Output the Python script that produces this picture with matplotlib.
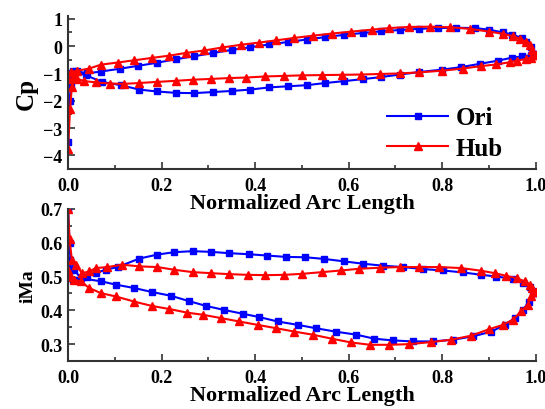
import matplotlib
matplotlib.use("Agg")
import matplotlib.pyplot as plt
from matplotlib.ticker import MultipleLocator, FormatStrFormatter

# ---------------- data ----------------
# Cp, Ori, pressure side (upper Cp branch)
cp_ori_ps_x = [0.0, 0.004, 0.01, 0.02, 0.04, 0.07, 0.11, 0.15, 0.19, 0.23, 0.27, 0.31, 0.35, 0.39,
               0.43, 0.47, 0.51, 0.55, 0.59, 0.63, 0.67, 0.71, 0.75, 0.79, 0.83, 0.87, 0.9, 0.93,
               0.95, 0.97, 0.98, 0.99, 1.0]
cp_ori_ps_y = [-1.5, -1.0, -0.9, -0.92, -1.0, -0.93, -0.83, -0.72, -0.61, -0.48, -0.37, -0.25, -0.14,
               -0.04, 0.06, 0.15, 0.24, 0.33, 0.41, 0.48, 0.54, 0.59, 0.63, 0.66, 0.67, 0.66, 0.6,
               0.5, 0.42, 0.3, 0.15, -0.05, -0.3]
# Cp, Ori, suction side (lower Cp branch)
cp_ori_ss_x = [0.0, 0.003, 0.006, 0.01, 0.017, 0.038, 0.073, 0.113, 0.152, 0.19, 0.23, 0.27, 0.31,
               0.35, 0.39, 0.43, 0.47, 0.51, 0.55, 0.59, 0.63, 0.67, 0.71, 0.75, 0.8, 0.84, 0.88,
               0.92, 0.95, 0.97, 0.99, 1.0]
cp_ori_ss_y = [-3.5, -2.0, -1.45, -1.1, -0.95, -1.07, -1.31, -1.43, -1.59, -1.66, -1.71, -1.72, -1.68,
               -1.64, -1.59, -1.51, -1.47, -1.43, -1.35, -1.28, -1.21, -1.13, -1.04, -0.95, -0.86,
               -0.77, -0.65, -0.53, -0.42, -0.38, -0.33, -0.3]
# Cp, Hub, pressure side
cp_hub_ps_x = [0.0, 0.006, 0.02, 0.045, 0.07, 0.106, 0.141, 0.18, 0.216, 0.252, 0.291, 0.33, 0.37,
               0.409, 0.445, 0.484, 0.523, 0.565, 0.606, 0.649, 0.687, 0.73, 0.773, 0.816, 0.859,
               0.9, 0.93, 0.951, 0.966, 0.98, 0.987, 0.993, 1.0]
cp_hub_ps_y = [-1.2, -0.95, -0.9, -0.82, -0.68, -0.6, -0.52, -0.43, -0.35, -0.25, -0.16, -0.05, 0.05,
               0.13, 0.21, 0.3, 0.38, 0.46, 0.53, 0.6, 0.66, 0.7, 0.71, 0.69, 0.63, 0.53, 0.45,
               0.36, 0.27, 0.15, 0.03, -0.15, -0.34]
# Cp, Hub, suction side
cp_hub_ss_x = [0.0, 0.004, 0.008, 0.012, 0.02, 0.035, 0.06, 0.09, 0.12, 0.152, 0.19, 0.23, 0.266,
               0.306, 0.343, 0.381, 0.422, 0.462, 0.501, 0.542, 0.585, 0.627, 0.666, 0.709, 0.751,
               0.8, 0.844, 0.884, 0.916, 0.944, 0.96, 0.98, 0.99, 1.0]
cp_hub_ss_y = [-3.75, -2.3, -1.5, -1.1, -1.2, -1.28, -1.33, -1.37, -1.38, -1.35, -1.31, -1.27, -1.23,
               -1.2, -1.17, -1.15, -1.11, -1.09, -1.07, -1.06, -1.05, -1.04, -1.02, -1.0, -0.96,
               -0.9, -0.82, -0.73, -0.67, -0.59, -0.53, -0.47, -0.42, -0.34]

# iMa, Ori, suction side (upper iMa branch)
ma_ori_ss_x = [0.0, 0.003, 0.006, 0.01, 0.02, 0.04, 0.059, 0.08, 0.106, 0.152, 0.191, 0.227, 0.266,
               0.305, 0.345, 0.386, 0.426, 0.466, 0.507, 0.548, 0.589, 0.63, 0.673, 0.716, 0.759,
               0.801, 0.845, 0.884, 0.916, 0.951, 0.973, 0.987, 0.994, 1.0]
ma_ori_ss_y = [0.7, 0.6, 0.52, 0.49, 0.49, 0.5, 0.51, 0.52, 0.528, 0.553, 0.565, 0.572, 0.575,
               0.573, 0.569, 0.566, 0.562, 0.558, 0.557, 0.552, 0.545, 0.538, 0.532, 0.528, 0.522,
               0.518, 0.512, 0.505, 0.5, 0.493, 0.481, 0.469, 0.456, 0.45]
# iMa, Ori, pressure side (lower iMa branch)
ma_ori_ps_x = [0.0, 0.005, 0.013, 0.027, 0.07, 0.102, 0.141, 0.18, 0.22, 0.259, 0.295, 0.334, 0.373,
               0.409, 0.448, 0.491, 0.53, 0.572, 0.616, 0.655, 0.694, 0.737, 0.78, 0.823, 0.866,
               0.905, 0.934, 0.955, 0.973, 0.985, 1.0]
ma_ori_ps_y = [0.5, 0.55, 0.52, 0.495, 0.486, 0.476, 0.466, 0.454, 0.443, 0.427, 0.413, 0.401, 0.39,
               0.38, 0.367, 0.357, 0.347, 0.337, 0.328, 0.316, 0.311, 0.308, 0.308, 0.313, 0.323,
               0.337, 0.357, 0.377, 0.401, 0.426, 0.45]
# iMa, Hub, suction side
ma_hub_ss_x = [0.0, 0.003, 0.008, 0.016, 0.03, 0.045, 0.059, 0.084, 0.116, 0.152, 0.191, 0.227, 0.266,
               0.305, 0.345, 0.384, 0.422, 0.462, 0.501, 0.543, 0.584, 0.623, 0.666, 0.709, 0.751,
               0.794, 0.841, 0.884, 0.912, 0.937, 0.959, 0.976, 0.987, 0.993, 1.0]
ma_hub_ss_y = [0.7, 0.61, 0.55, 0.535, 0.51, 0.515, 0.525, 0.528, 0.535, 0.53, 0.528, 0.52, 0.513,
               0.51, 0.507, 0.505, 0.504, 0.505, 0.508, 0.513, 0.518, 0.523, 0.526, 0.528, 0.528,
               0.528, 0.525, 0.517, 0.51, 0.502, 0.495, 0.486, 0.476, 0.466, 0.455]
# iMa, Hub, pressure side
ma_hub_ps_x = [0.0, 0.006, 0.013, 0.027, 0.045, 0.07, 0.102, 0.141, 0.179, 0.216, 0.255, 0.288, 0.327,
               0.366, 0.405, 0.445, 0.484, 0.523, 0.564, 0.605, 0.646, 0.687, 0.73, 0.776, 0.819,
               0.862, 0.9, 0.93, 0.951, 0.969, 0.983, 0.99, 1.0]
ma_hub_ps_y = [0.52, 0.5, 0.49, 0.486, 0.466, 0.451, 0.441, 0.426, 0.413, 0.404, 0.393, 0.387, 0.377,
               0.367, 0.357, 0.347, 0.337, 0.328, 0.316, 0.305, 0.298, 0.298, 0.3, 0.306, 0.313,
               0.325, 0.344, 0.357, 0.372, 0.397, 0.417, 0.441, 0.455]

series_labels = ["Ori", "Hub"]
x_label = "Normalized Arc Length"

# ---------------- plot ----------------
plt.rcParams['font.family'] = ['Liberation Serif', 'DejaVu Serif']
plt.rcParams['font.weight'] = 'bold'

fig = plt.figure(figsize=(5.45, 4.10), dpi=100)
ax2 = fig.add_axes([0.125, 0.117, 0.858, 0.371])
ax1 = fig.add_axes([0.125, 0.585, 0.858, 0.3735])
ax1.patch.set_visible(False)
ax2.patch.set_visible(False)

blue = '#0000ff'
red = '#ff0000'
bkw = dict(color=blue, marker='s', markersize=4.5, linewidth=1.5)
rkw = dict(color=red, marker='^', markersize=5.5, linewidth=1.5)

ax1.plot(cp_ori_ps_x, cp_ori_ps_y, label=series_labels[0], **bkw)
ax1.plot(cp_ori_ss_x, cp_ori_ss_y, **bkw)
ax1.plot(cp_hub_ps_x, cp_hub_ps_y, label=series_labels[1], **rkw)
ax1.plot(cp_hub_ss_x, cp_hub_ss_y, **rkw)

ax2.plot(ma_ori_ss_x, ma_ori_ss_y, **bkw)
ax2.plot(ma_ori_ps_x, ma_ori_ps_y, **bkw)
ax2.plot(ma_hub_ss_x, ma_hub_ss_y, **rkw)
ax2.plot(ma_hub_ps_x, ma_hub_ps_y, **rkw)

ax1.set_xlim(0, 1.0)
ax1.set_ylim(-4.5, 1.1)
ax1.yaxis.set_major_locator(MultipleLocator(1))
ax1.yaxis.set_minor_locator(MultipleLocator(0.5))
ax2.set_xlim(0, 1.0)
ax2.set_ylim(0.25, 0.7)
ax2.yaxis.set_major_locator(MultipleLocator(0.1))
ax2.yaxis.set_minor_locator(MultipleLocator(0.05))

for ax in (ax1, ax2):
    ax.xaxis.set_major_locator(MultipleLocator(0.2))
    ax.xaxis.set_minor_locator(MultipleLocator(0.1))
    ax.xaxis.set_major_formatter(FormatStrFormatter('%.1f'))
    ax.spines['top'].set_visible(False)
    ax.spines['right'].set_visible(False)
    for s in ('left', 'bottom'):
        ax.spines[s].set_linewidth(1.5)
        ax.spines[s].set_color('#333333')
    ax.tick_params(which='both', direction='in', width=1.2, colors='#333333',
                   labelcolor='black', labelsize=13)
    ax.tick_params(which='major', length=5)
    ax.tick_params(which='minor', length=3)
    ax.tick_params(axis='x', which='major', pad=5.5)
    ax.tick_params(axis='y', which='major', pad=4)
    for lab in ax.get_xticklabels() + ax.get_yticklabels():
        lab.set_fontweight('bold')
    ax.set_xlabel(x_label, fontsize=16, fontweight='bold', labelpad=-0.5)

ax1.set_ylabel("Cp", fontsize=18, fontweight='bold', labelpad=4)
ax2.set_ylabel("iMa", fontsize=14, fontweight='bold', labelpad=3)

ax1.legend(loc='lower right', bbox_to_anchor=(0.93, 0.06), frameon=False,
           prop={'family': 'Liberation Serif', 'weight': 'bold', 'size': 18},
           handlelength=2.45, handletextpad=0.3, labelspacing=0.3,
           borderpad=0, borderaxespad=0)

fig.savefig("out.png", dpi=100)
